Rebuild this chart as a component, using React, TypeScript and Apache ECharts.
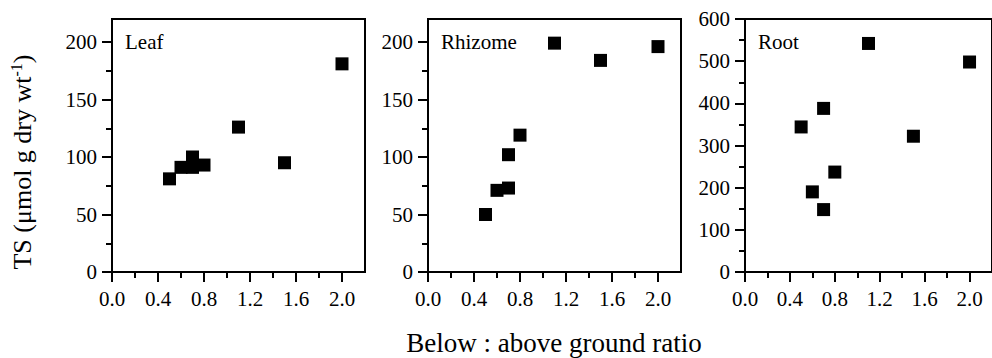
import React, { useEffect, useRef } from "react";
import * as echarts from "echarts";

const ratio = [0.5, 0.6, 0.7, 0.7, 0.8, 1.1, 1.5, 2.0];
const leafTS = [81, 91, 100, 91, 93, 126, 95, 181];
const rhizomeTS = [50, 71, 73, 102, 119, 199, 184, 196];
const rootTS = [344, 190, 388, 148, 237, 542, 322, 498];
const panelNames = ["Leaf", "Rhizome", "Root"];
const yMaxes = [220, 220, 600];
const xMajorTicks = [0, 0.4, 0.8, 1.2, 1.6, 2.0];
const xMinorTicks = [0.2, 0.6, 1.0, 1.4, 1.8];
const yMajorTicksSmall = [0, 50, 100, 150, 200];
const yMinorTicksSmall = [25, 75, 125, 175];
const yMajorTicksRoot = [0, 100, 200, 300, 400, 500, 600];
const yMinorTicksRoot = [50, 150, 250, 350, 450, 550];

const FONT = "Liberation Serif, Times New Roman, serif";

export default function App() {
  const ref = useRef<HTMLDivElement>(null);
  useEffect(() => {
    if (!ref.current) return;
    const chart = echarts.init(ref.current, null, { renderer: "svg" });
    const lefts = [112, 428, 745];
    const series = [leafTS, rhizomeTS, rootTS];
    const yMajor = [yMajorTicksSmall, yMajorTicksSmall, yMajorTicksRoot];
    const yMinor = [yMinorTicksSmall, yMinorTicksSmall, yMinorTicksRoot];
    const labelStyle = { color: "#000", fontFamily: FONT, fontSize: 21, fontWeight: "normal" };
    const lineStyle = { color: "#000", width: 2 };
    const grids = lefts.map((l) => ({
      left: l,
      top: 19,
      width: 253,
      height: 253,
      show: true,
      borderColor: "#000",
      borderWidth: 2,
      backgroundColor: "transparent",
    }));
    const xAxes: any[] = [];
    const yAxes: any[] = [];
    lefts.forEach((_, i) => {
      xAxes.push({
        type: "value",
        gridIndex: i,
        min: 0,
        max: 2.2,
        axisLine: { show: true, onZero: false, lineStyle },
        axisTick: { show: true, inside: false, length: 10, lineStyle, customValues: xMajorTicks },
        splitLine: { show: false },
        axisLabel: {
          ...labelStyle,
          margin: 16,
          customValues: xMajorTicks,
          formatter: (v: number) => v.toFixed(1),
        },
      });
      xAxes.push({
        type: "value",
        gridIndex: i,
        position: "bottom",
        min: 0,
        max: 2.2,
        axisLine: { show: false, onZero: false },
        axisTick: { show: true, inside: false, length: 6, lineStyle, customValues: xMinorTicks },
        splitLine: { show: false },
        axisLabel: { show: false },
      });
      yAxes.push({
        type: "value",
        gridIndex: i,
        min: 0,
        max: yMaxes[i],
        axisLine: { show: true, onZero: false, lineStyle },
        axisTick: { show: true, inside: false, length: 10, lineStyle, customValues: yMajor[i] },
        splitLine: { show: false },
        axisLabel: { ...labelStyle, margin: 15, customValues: yMajor[i] },
      });
      yAxes.push({
        type: "value",
        gridIndex: i,
        position: "left",
        min: 0,
        max: yMaxes[i],
        axisLine: { show: false, onZero: false },
        axisTick: { show: true, inside: false, length: 6, lineStyle, customValues: yMinor[i] },
        splitLine: { show: false },
        axisLabel: { show: false },
      });
    });
    chart.setOption({
      animation: false,
      backgroundColor: "#fff",
      textStyle: { fontFamily: FONT, color: "#000" },
      grid: grids,
      xAxis: xAxes,
      yAxis: yAxes,
      series: series.map((vals, i) => ({
        type: "scatter",
        xAxisIndex: i * 2,
        yAxisIndex: i * 2,
        symbol: "rect",
        symbolSize: 13,
        itemStyle: { color: "#000", opacity: 1 },
        data: ratio.map((x, j) => [x, vals[j]]),
      })),
      graphic: [
        ...panelNames.map((name, i) => ({
          type: "text",
          left: lefts[i] + 13,
          top: 31,
          style: { text: name, fontFamily: FONT, fontSize: 21, fill: "#000" },
        })),
        {
          type: "text",
          x: 22,
          y: 162,
          rotation: Math.PI / 2,
          style: {
            text: "TS (μmol g dry wt{sup|-1})",
            fill: "#000",
            fontFamily: FONT,
            fontSize: 26,
            align: "center",
            verticalAlign: "middle",
            rich: {
              sup: { fontSize: 16, fontFamily: FONT, verticalAlign: "top", padding: [0, 0, 12, 0], fill: "#000" },
            },
          },
        },
        {
          type: "text",
          x: 554,
          y: 343,
          style: {
            text: "Below : above ground ratio",
            fill: "#000",
            fontFamily: FONT,
            fontSize: 27,
            align: "center",
            verticalAlign: "middle",
          },
        },
      ],
    });
    return () => chart.dispose();
  }, []);
  return (
    <div
      ref={ref}
      style={{ position: "fixed", left: 0, top: 0, width: 992, height: 358, background: "#fff" }}
    />
  );
}
